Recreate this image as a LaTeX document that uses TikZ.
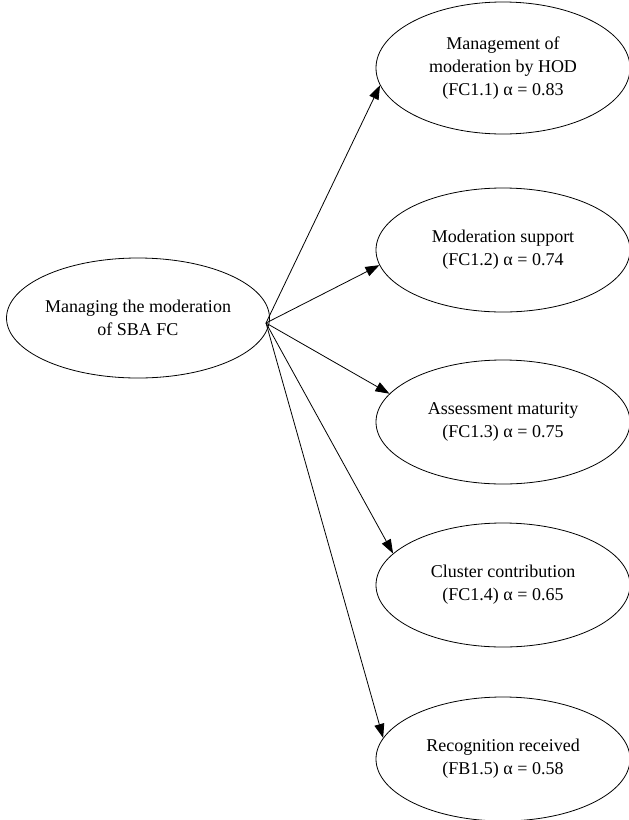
\documentclass[tikz,border=0pt]{standalone}
\usepackage{fontspec}
\setmainfont{Liberation Serif}
\usetikzlibrary{shapes.geometric,arrows.meta}
\begin{document}
\begin{tikzpicture}[x=1pt,y=-1pt,
  oval/.style={ellipse,draw,line width=0.8pt,inner sep=0pt,align=center,
    font=\fontsize{18}{23}\selectfont},
  rightoval/.style={oval,minimum width=254pt,minimum height=124pt},
  link/.style={line width=0.8pt,-{Triangle[length=14pt,width=10pt]}}]
\useasboundingbox (0,0) rectangle (629,820);
\node[oval,minimum width=256pt,minimum height=120pt] (src) at (138,318)
  {Managing the moderation\\of SBA FC};
\coordinate (o) at (266,323);
\node[rightoval,minimum height=132pt] (e1) at (503,68)
  {Management of\\moderation by HOD\\(FC1.1) α = 0.83};
\node[rightoval] (e2) at (503,250) {Moderation support\\(FC1.2) α = 0.74};
\node[rightoval] (e3) at (503,422) {Assessment maturity\\(FC1.3) α = 0.75};
\node[rightoval] (e4) at (503,585) {Cluster contribution\\(FC1.4) α = 0.65};
\node[rightoval] (e5) at (503,759) {Recognition received\\(FB1.5) α = 0.58};
\draw[link] (o) -- (e1.188);
\draw[link] (o) -- (e2.187);
\draw[link] (o) -- (e3.166);
\draw[link] (o) -- (e4.164);
\draw[link] (o) -- (e5.170);
\end{tikzpicture}
\end{document}
